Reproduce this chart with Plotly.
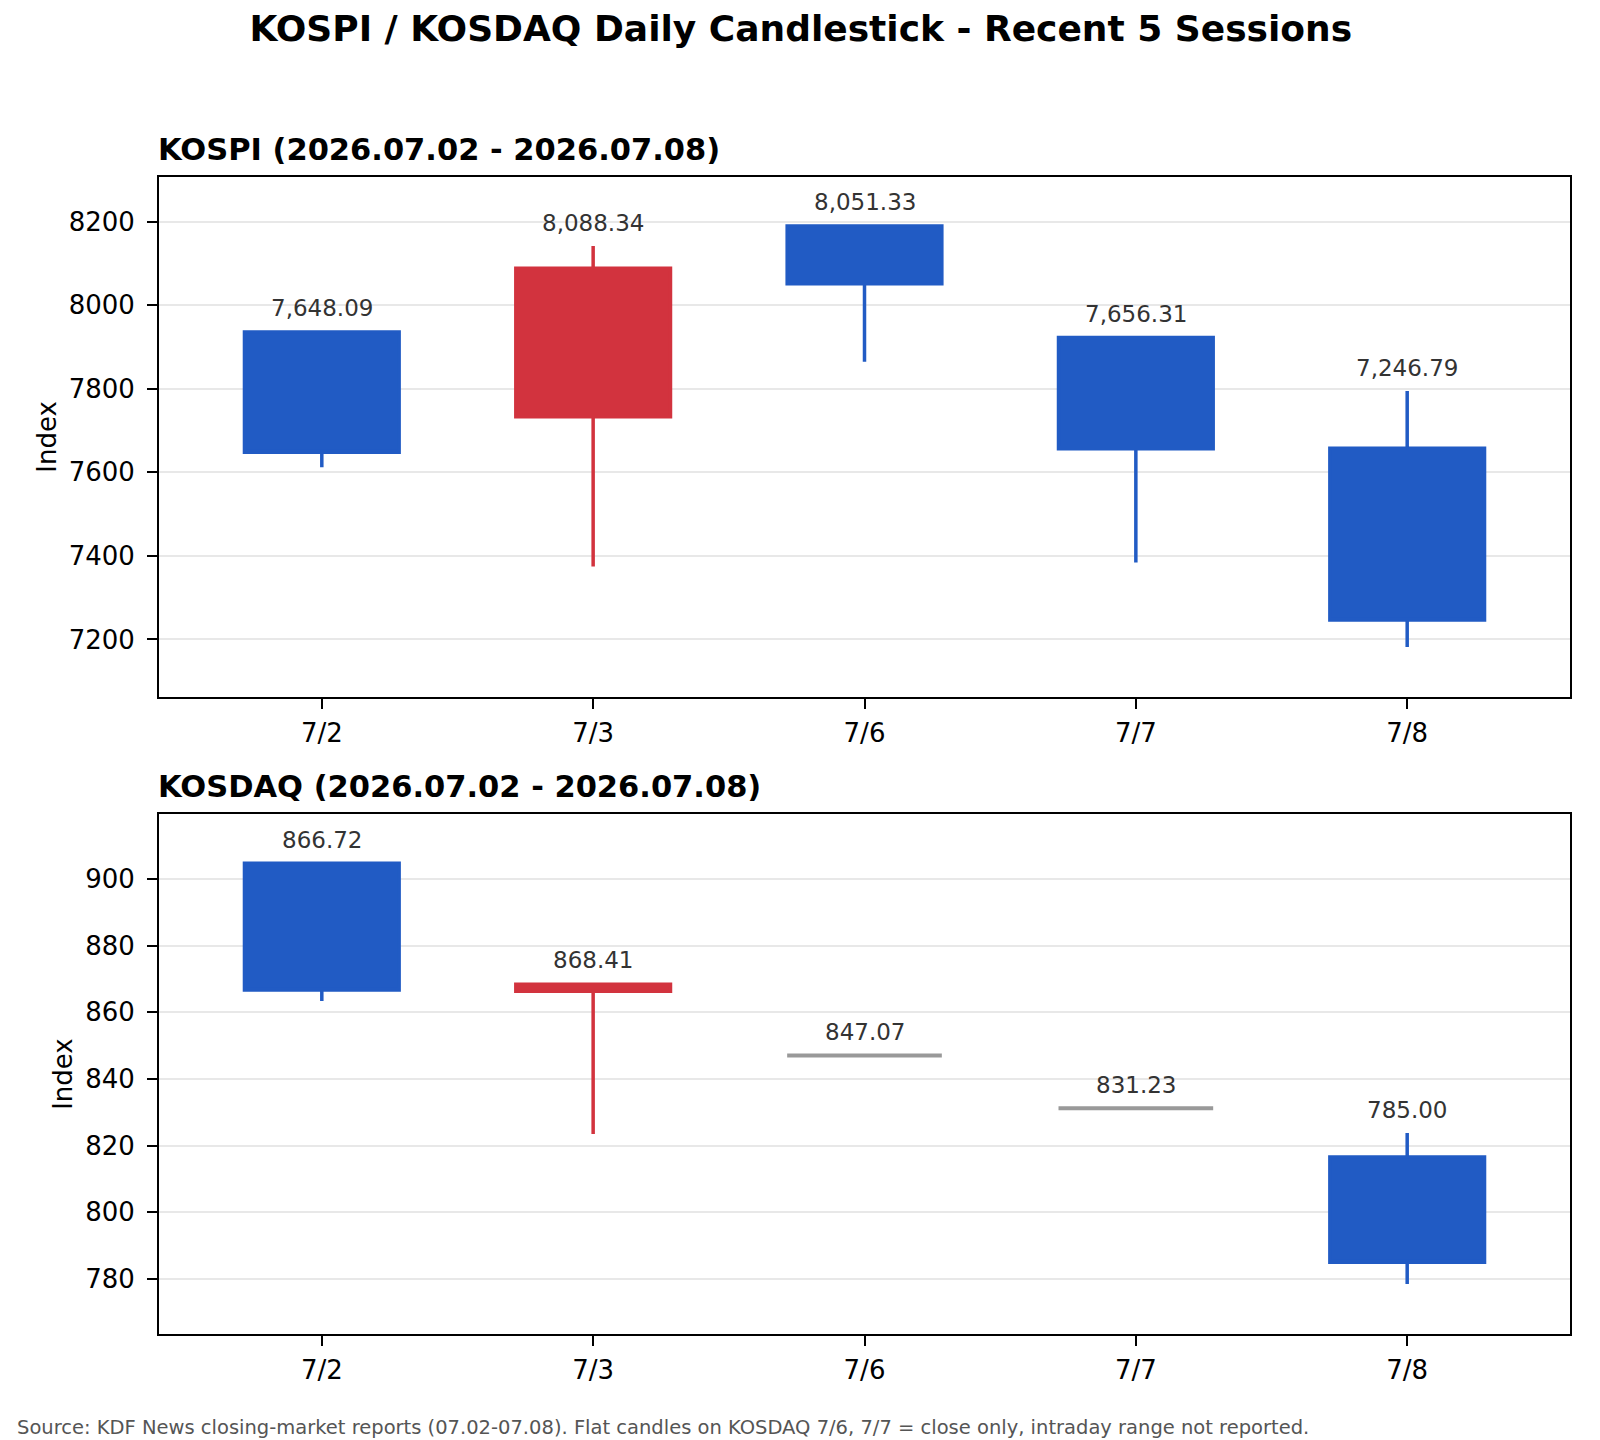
import plotly.graph_objects as go
from plotly.subplots import make_subplots

# session labels
dates = ["7/2", "7/3", "7/6", "7/7", "7/8"]

# KOSPI daily OHLC
kospi_open = [7936, 7733, 8190, 7923, 7658]
kospi_high = [7938, 8142, 8192, 7925, 7795]
kospi_low = [7612, 7375, 7865, 7384, 7182]
kospi_close = [7648.09, 8088.34, 8051.33, 7656.31, 7246.79]

# KOSDAQ daily OHLC (7/6, 7/7 close only)
kosdaq_open = [904.7, 866.3, 847.07, 831.23, 816.6]
kosdaq_high = [904.9, 868.9, 847.07, 831.23, 823.8]
kosdaq_low = [863.4, 823.5, 847.07, 831.23, 778.5]
kosdaq_close = [866.72, 868.41, 847.07, 831.23, 785.00]

RED = "#D2333E"
BLUE = "#215BC4"
GRAY = "#999999"
FONT = "DejaVu Sans"

fig = make_subplots(rows=2, cols=1)


def add_panel(row, o, h, l, c):
    flat = [i for i in range(len(dates)) if o[i] == c[i] == h[i] == l[i]]
    normal = [i for i in range(len(dates)) if i not in flat]
    pick = lambda arr, idx: [arr[i] for i in idx]
    fig.add_trace(go.Candlestick(
        x=pick(dates, normal), open=pick(o, normal), high=pick(h, normal),
        low=pick(l, normal), close=pick(c, normal),
        increasing=dict(line=dict(color=RED, width=3.5), fillcolor=RED),
        decreasing=dict(line=dict(color=BLUE, width=3.5), fillcolor=BLUE),
        whiskerwidth=0, showlegend=False, hoverinfo="skip",
    ), row=row, col=1)
    if flat:
        fig.add_trace(go.Candlestick(
            x=pick(dates, flat), open=pick(o, flat), high=pick(h, flat),
            low=pick(l, flat), close=pick(c, flat),
            increasing=dict(line=dict(color=GRAY, width=4), fillcolor=GRAY),
            decreasing=dict(line=dict(color=GRAY, width=4), fillcolor=GRAY),
            whiskerwidth=0, showlegend=False, hoverinfo="skip",
        ), row=row, col=1)
    xref = "x" if row == 1 else "x2"
    yref = "y" if row == 1 else "y2"
    for i in range(len(dates)):
        fig.add_annotation(x=dates[i], y=h[i], xref=xref, yref=yref,
                           text=f"{c[i]:,.2f}", showarrow=False,
                           yanchor="middle", yshift=23,
                           font=dict(family=FONT, size=23, color="#333333"))


add_panel(1, kospi_open, kospi_high, kospi_low, kospi_close)
add_panel(2, kosdaq_open, kosdaq_high, kosdaq_low, kosdaq_close)

# panel titles
for ref, name in [("", "KOSPI"), ("2", "KOSDAQ")]:
    fig.add_annotation(x=0, y=1, xref=f"x{ref} domain", yref=f"y{ref} domain",
                       xanchor="left", yanchor="bottom", yshift=8, xshift=-3, showarrow=False,
                       text=f"{name} (2026.07.02 - 2026.07.08)",
                       font=dict(family=FONT, size=30.5, color="black", weight="bold"))

# source note
fig.add_annotation(x=-0.1018, y=-0.0804, xref="paper", yref="paper",
                   xanchor="left", yanchor="middle", showarrow=False,
                   text="Source: KDF News closing-market reports (07.02-07.08). "
                        "Flat candles on KOSDAQ 7/6, 7/7 = close only, intraday range not reported.",
                   font=dict(family=FONT, size=19.5, color="#555555"))

axis_common = dict(showline=True, linecolor="black", linewidth=2, mirror=True,
                   ticks="outside", ticklen=10, tickwidth=2, tickcolor="black",
                   tickfont=dict(family=FONT, size=26, color="black"))

for ax in ["xaxis", "xaxis2"]:
    fig.update_layout({ax: dict(type="category", categoryorder="array", categoryarray=dates,
                                range=[-0.6, 4.6], showgrid=False, rangeslider=dict(visible=False),
                                ticklabelstandoff=2, **axis_common)})

y_title = dict(text="Index", standoff=5, font=dict(family=FONT, size=26, color="black"))

fig.update_layout(
    yaxis=dict(domain=[0.5508, 1], range=[7063, 8307], dtick=200, tickformat="d",
               showgrid=True, gridcolor="#E8E8E8", gridwidth=2, zeroline=False,
               ticklabelstandoff=7, title=y_title, **axis_common),
    yaxis2=dict(domain=[0, 0.4494], range=[763.5, 919.5], dtick=20, tickformat="d",
                showgrid=True, gridcolor="#E8E8E8", gridwidth=2, zeroline=False,
                ticklabelstandoff=7, title=y_title, **axis_common),
    xaxis=dict(anchor="y"),
    xaxis2=dict(anchor="y2"),
    boxgap=0.43,
    boxgroupgap=0,
    title=dict(text="KOSPI / KOSDAQ Daily Candlestick - Recent 5 Sessions",
               x=0.4955, xanchor="center", y=1 - 20 / 1440, yanchor="middle",
               font=dict(family=FONT, size=36, color="black", weight="bold")),
    width=1600, height=1440,
    margin=dict(l=151, r=38, t=169, b=114),
    plot_bgcolor="white", paper_bgcolor="white",
    showlegend=False,
)

fig.write_html("out.html")
